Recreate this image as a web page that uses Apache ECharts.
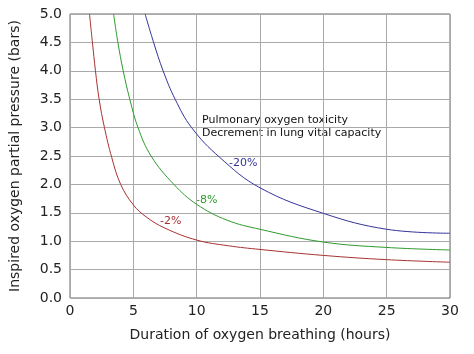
<!DOCTYPE html>
<html>
<head>
<meta charset="utf-8">
<script src="https://cdn.jsdelivr.net/npm/echarts@6/dist/echarts.min.js"></script>
<style>
html, body { margin: 0; padding: 0; background: #fff; }
#chart { width: 474px; height: 354px; }
</style>
</head>
<body>
<div id="chart"></div>
<script>
// 读图得到的数据 (hours, bar)
const hours2 = [1.54, 1.77, 2.01, 2.3, 2.72, 3.3, 4.0, 5, 6, 7.5, 10, 12.5, 15, 20, 25, 30]
const press2 = [5.0, 4.5, 4.0, 3.5, 3.0, 2.47, 2.0, 1.64, 1.43, 1.23, 1.02, 0.92, 0.855, 0.75, 0.675, 0.63]
const hours8 = [3.44, 3.78, 4.2, 4.72, 5.37, 6.4, 8.2, 10, 12.4, 15, 20, 25, 30]
const press8 = [5.0, 4.5, 4.0, 3.5, 3.0, 2.5, 2.0, 1.65, 1.37, 1.21, 0.985, 0.89, 0.845]
const hours20 = [5.93, 6.6, 7.35, 8.3, 9.6, 11.8, 15, 20, 25, 30]
const press20 = [5.0, 4.5, 4.0, 3.5, 3.0, 2.48, 1.94, 1.49, 1.21, 1.14]

const font = 'DejaVu Sans'
const pair = (xs, ys) => xs.map((x, i) => [x, ys[i]])

let myChart = echarts.init(document.getElementById('chart'))

function line(name, xs, ys, color) {
	return {
		name: name,
		type: 'line',
		data: pair(xs, ys),
		smooth: 0.4,
		showSymbol: false,
		silent: true,
		lineStyle: { color: color, width: 1 },
		z: 3
	}
}

function note(text, x, y, color) {
	return {
		type: 'text', left: x, top: y,
		style: { text: text, fill: color, font: '11px "' + font + '"' }
	}
}

myChart.setOption({
	animation: false,
	textStyle: { fontFamily: font },
	grid: { left: 67, right: 24, top: 14, bottom: 56, show: true, borderColor: '#666', borderWidth: 1 },
	xAxis: {
		type: 'value', min: 0, max: 30, interval: 5,
		name: 'Duration of oxygen breathing (hours)',
		nameLocation: 'middle', nameGap: 30,
		nameTextStyle: { fontSize: 14, color: '#222', fontFamily: font },
		axisLine: { show: false },
		axisTick: { show: false },
		axisLabel: { fontSize: 14, color: '#222', fontFamily: font, margin: 6 },
		splitLine: { lineStyle: { color: '#aaa', width: 1 } }
	},
	yAxis: {
		type: 'value', min: 0, max: 5, interval: 0.5,
		name: 'Inspired oxygen partial pressure (bars)',
		nameLocation: 'middle', nameGap: 48,
		nameTextStyle: { fontSize: 14, color: '#222', fontFamily: font },
		axisLine: { show: false },
		axisTick: { show: false },
		axisLabel: { fontSize: 14, color: '#222', fontFamily: font, margin: 8,
			formatter: v => v.toFixed(1) },
		splitLine: { lineStyle: { color: '#aaa', width: 1 } }
	},
	series: [
		line('-2%', hours2, press2, '#a83232'),
		line('-8%', hours8, press8, '#2e9a2e'),
		line('-20%', hours20, press20, '#33339a')
	],
	graphic: [
		note('Pulmonary oxygen toxicity', 202, 115, '#111'),
		note('Decrement in lung vital capacity', 202, 128, '#111'),
		note('-20%', 229, 158, '#33339a'),
		note('-8%', 196, 195, '#2e9a2e'),
		note('-2%', 160, 216, '#a83232')
	]
})
</script>
</body>
</html>
